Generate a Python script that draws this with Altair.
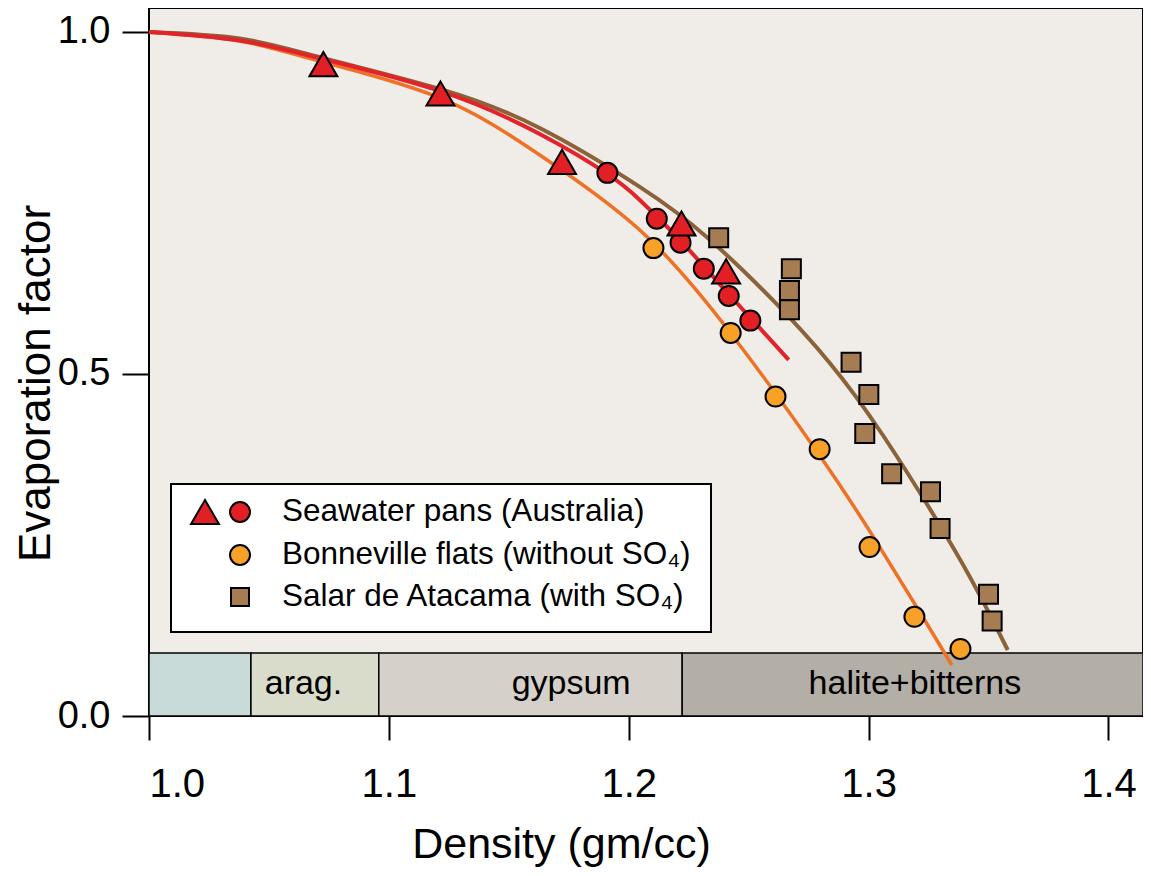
import altair as alt
import pandas as pd

# ---------------- data ----------------
# Seawater pans (Australia): triangles and circles
tri_x = [1.0727, 1.1215, 1.1722, 1.2220, 1.2406]
tri_y = [0.953, 0.910, 0.810, 0.720, 0.650]
sea_x = [1.1911, 1.2117, 1.2216, 1.2313, 1.2417, 1.2507]
sea_y = [0.794, 0.727, 0.692, 0.654, 0.614, 0.578]
# Bonneville flats (without SO4)
bon_x = [1.2103, 1.2425, 1.2612, 1.2796, 1.3004, 1.3191, 1.3383]
bon_y = [0.684, 0.560, 0.467, 0.390, 0.247, 0.145, 0.098]
# Salar de Atacama (with SO4)
ata_x = [1.2375, 1.2678, 1.2670, 1.2670, 1.2927, 1.3001, 1.2984, 1.3096,
         1.3258, 1.3298, 1.3500, 1.3515]
ata_y = [0.699, 0.654, 0.622, 0.594, 0.517, 0.470, 0.413, 0.354,
         0.328, 0.274, 0.178, 0.139]

# fitted curves
red_cx = [1.0000, 1.0378, 1.0724, 1.1212, 1.1629, 1.1911, 1.2046, 1.2213,
          1.2413, 1.2546, 1.2667]
red_cy = [1.0000, 0.9876, 0.9605, 0.9137, 0.8509, 0.7924, 0.7544, 0.6959,
          0.6184, 0.5673, 0.5205]
org_cx = [1.0000, 1.0378, 1.0724, 1.1212, 1.1629, 1.2046, 1.2421, 1.2809,
          1.3046, 1.3226, 1.3347]
org_cy = [1.0000, 0.9868, 0.9561, 0.9035, 0.8202, 0.7105, 0.5614, 0.3743,
          0.2471, 0.1447, 0.0746]
brn_cx = [1.0000, 1.0378, 1.0724, 1.1212, 1.1629, 1.2046, 1.2325, 1.2600,
          1.2838, 1.3059, 1.3309, 1.3463, 1.3580]
brn_cy = [1.0000, 0.9905, 0.9620, 0.9167, 0.8596, 0.7734, 0.7003, 0.6082,
          0.5161, 0.4108, 0.2719, 0.1769, 0.0965]

# mineral precipitation bands
band_start = [1.0, 1.0425, 1.0958, 1.2223]
band_end = [1.0425, 1.0958, 1.2223, 1.4144]
band_top = [0.092, 0.092, 0.092, 0.092]
band_name = ["", "arag.", "gypsum", "halite+bitterns"]
band_label_x = [1.02, 1.0644, 1.1760, 1.3193]
band_fill = ["#c8dbd9", "#d9dccb", "#d6d0ca", "#b3aea6"]

legend_labels = ["Seawater pans (Australia)",
                 "Bonneville flats (without SO\u2084)",
                 "Salar de Atacama (with SO\u2084)"]

FONT = "Liberation Sans"
XDOM = [1.0, 1.4144]
YDOM = [0.0, 1.035]

xs = alt.Scale(domain=XDOM, nice=False, zero=False)
ys = alt.Scale(domain=YDOM, nice=False, zero=False)

x_axis = alt.Axis(values=[1.0, 1.1, 1.2, 1.3, 1.4], format=".1f",
                  title="Density (gm/cc)", tickSize=24, tickWidth=2,
                  tickColor="black", domain=False, grid=False,
                  labelFontSize=40, labelFont=FONT, labelColor="black",
                  labelPadding=24, titleFont=FONT, titleFontSize=43,
                  titleFontWeight="normal", titleColor="black",
                  titleX=412, titleY=141, titleBaseline="alphabetic",
                  titleAlign="center")
y_axis = alt.Axis(values=[0.0, 0.5, 1.0], format=".1f",
                  title="Evaporation factor", tickSize=27, tickWidth=2,
                  tickColor="black", domain=False, grid=False,
                  labelFontSize=38, labelFont=FONT, labelColor="black",
                  labelPadding=12, titleFont=FONT, titleFontSize=44,
                  titleFontWeight="normal", titleColor="black",
                  titleAngle=270, titleX=-100, titleY=375,
                  titleBaseline="alphabetic", titleAlign="center")

# ---------------- bands ----------------
bands_df = pd.DataFrame({"x0": band_start, "x1": band_end, "top": band_top,
                         "fill": band_fill})
bands = alt.Chart(bands_df).mark_rect(stroke="black", strokeWidth=1.5).encode(
    x=alt.X("x0:Q", scale=xs, axis=x_axis),
    x2="x1:Q",
    y=alt.Y("top:Q", scale=ys, axis=y_axis),
    y2=alt.datum(0),
    fill=alt.Fill("fill:N", scale=None),
)

blab_df = pd.DataFrame({"x": band_label_x, "name": band_name})
band_labels = alt.Chart(blab_df).mark_text(
    font=FONT, fontSize=34, color="black", baseline="alphabetic", align="center"
).encode(x=alt.X("x:Q", scale=xs), y=alt.value(686), text="name:N")

# ---------------- curves ----------------
def curve(xv, yv, color, width):
    df = pd.DataFrame({"x": xv, "y": yv})
    return alt.Chart(df).mark_line(color=color, strokeWidth=width,
                                   interpolate="natural", strokeCap="butt").encode(
        x=alt.X("x:Q", scale=xs), y=alt.Y("y:Q", scale=ys))

red_line = curve(red_cx, red_cy, "#e3232a", 4)
org_line = curve(org_cx, org_cy, "#ef7126", 3.5)
brn_line = curve(brn_cx, brn_cy, "#8c6239", 4)

# ---------------- points ----------------
def pts(xv, yv, shape, fill, size):
    df = pd.DataFrame({"x": xv, "y": yv})
    return alt.Chart(df).mark_point(shape=shape, filled=True, fill=fill,
                                    stroke="black", strokeWidth=2, size=size,
                                    opacity=1).encode(
        x=alt.X("x:Q", scale=xs), y=alt.Y("y:Q", scale=ys))

p_ata = pts(ata_x, ata_y, "square", "#a67c52", 361)
p_bon = pts(bon_x, bon_y, "circle", "#f7a128", 400)
p_sea = pts(sea_x, sea_y, "circle", "#e31f26", 400)
p_tri = pts(tri_x, tri_y, "triangle-up", "#e31f26", 780)

# ---------------- legend (drawn) ----------------
one = pd.DataFrame({"a": [0]})
leg_box = alt.Chart(one).mark_rect(fill="white", stroke="black",
                                   strokeWidth=2).encode(
    x=alt.value(22), x2=alt.value(562), y=alt.value(476), y2=alt.value(624))

def leg_sym(shape, fill, size, px, py):
    return alt.Chart(one).mark_point(shape=shape, filled=True, fill=fill,
                                     stroke="black", strokeWidth=2, size=size,
                                     opacity=1).encode(
        x=alt.value(px), y=alt.value(py))

leg_syms = [
    leg_sym("triangle-up", "#e31f26", 780, 56, 504),
    leg_sym("circle", "#e31f26", 400, 91, 504),
    leg_sym("circle", "#f7a128", 400, 91, 547),
    leg_sym("square", "#a67c52", 324, 91, 589),
]
leg_texts = [
    alt.Chart(one).mark_text(text=t, font=FONT, fontSize=31.5, color="black",
                             align="left", baseline="middle").encode(
        x=alt.value(133), y=alt.value(py))
    for t, py in zip(legend_labels, [504, 547, 589])
]

chart = alt.layer(
    bands, band_labels, org_line, brn_line, red_line,
    p_ata, p_bon, p_sea, p_tri, leg_box, *leg_syms, *leg_texts
).properties(
    width=994, height=708,
    padding={"left": 141, "top": 0, "right": 0, "bottom": 152},
    autosize=alt.AutoSizeParams(type="none"),
    background="white",
).configure_view(fill="#f0ece8", stroke="black", strokeWidth=2)

chart.save("out.html", embed_options={"renderer": "svg", "actions": False})
